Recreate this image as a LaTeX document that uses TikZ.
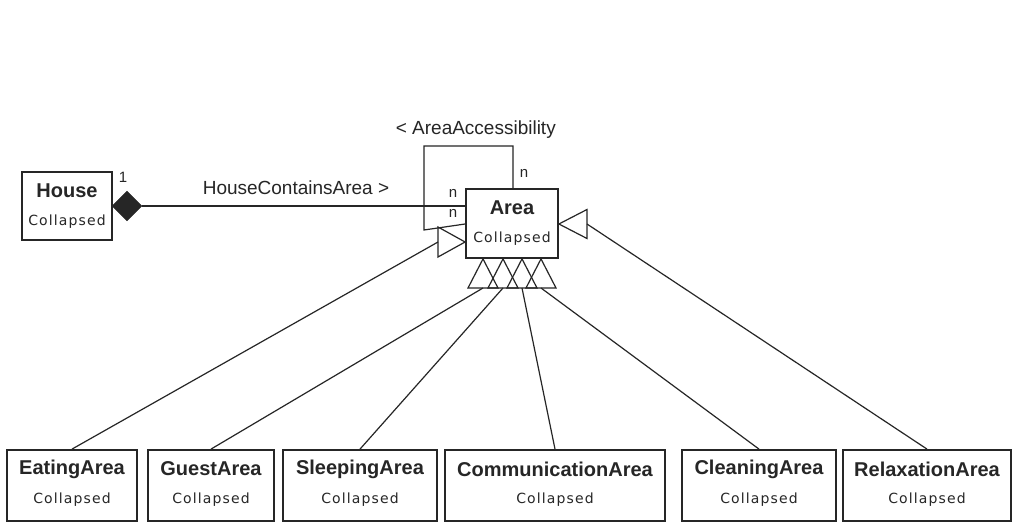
\documentclass[tikz,border=0pt]{standalone}
\usepackage{fontspec}
\setmainfont{Liberation Sans}
\newfontfamily\colfont[LetterSpace=8]{DejaVu Sans}
\usetikzlibrary{shapes.geometric}

% class box: node name, title, x1, x2, y1, y2
\newcommand\umlclass[6]{%
  \node[box, minimum width={#4-#3}, minimum height={#6-#5}] (#1) at ({(#3+#4)/2},{(#5+#6)/2}) {};
  \node[cname] (#1-n) at ({(#3+#4)/2},{#5+19}) {#2};
  \node[ccol] (#1-c) at ({(#3+#4)/2},{#5+50}) {Collapsed};
}

\begin{document}
\begin{tikzpicture}[x=1pt,y=-1pt,
  box/.style={draw=black!85, line width=1.8pt, rectangle, inner sep=0pt},
  cname/.style={font=\fontsize{20}{22}\selectfont\bfseries, text=black!85, inner sep=0pt},
  ccol/.style={font=\colfont\fontsize{14}{16}\selectfont, text=black!85, inner sep=0pt},
  lbl/.style={font=\fontsize{19}{21}\selectfont, text=black!85, inner sep=0pt},
  mult/.style={font=\fontsize{15}{17}\selectfont, text=black!85, inner sep=0pt},
  link/.style={draw=black!85, line width=1.2pt},
  gen/.style={draw=black!85, line width=1.2pt, line join=miter},
]
\useasboundingbox (0,0) rectangle (1016,526);
\fill[white] (0,0) rectangle (1016,526);

% classes
\umlclass{house}{House}{22}{112}{172}{240}
\umlclass{area}{Area}{466}{558}{189}{258}
\umlclass{eat}{EatingArea}{7}{137}{450}{521}
\umlclass{guest}{GuestArea}{148}{274}{450}{521}
\umlclass{sleep}{SleepingArea}{283}{437}{450}{521}
\umlclass{comm}{CommunicationArea}{445}{665}{450}{521}
\umlclass{clean}{CleaningArea}{682}{836}{450}{521}
\umlclass{relax}{RelaxationArea}{843}{1011}{450}{521}

% composition House -> Area
\node[diamond, fill=black!85, draw=black!85, inner sep=0pt, minimum width=30pt, minimum height=30pt] (dia) at (127,206) {};
\draw[link] (dia.east) -- (dia.east -| area.west);
\node[mult] (one) at (123,177) {1};
\node[lbl] (hca) at (296,188) {HouseContainsArea >};
\node[mult] (n1) at (453,193) {n};
\node[mult] (n2) at (453,213) {n};

% self association AreaAccessibility
\coordinate (lpa) at (424,230);
\coordinate (lpb) at (424,146);
\coordinate (lpc) at (513,146);
\draw[link] (area.west |- 0,224) -- (lpa) -- (lpb) -- (lpc) -- (lpc |- area.north);
\node[mult] (n3) at (524,173) {n};
\node[lbl, anchor=east] (acc) at (556,130) {< AreaAccessibility};

% generalization triangles
\coordinate (gl) at (438,242);
\coordinate (gr) at (587,224);
\coordinate (g1) at (483,288);
\coordinate (g2) at (503,288);
\coordinate (g3) at (522,288);
\coordinate (g4) at (541,288);

\draw[link] (eat.north) -- (gl);
\draw[link] (guest.north) -- (g1);
\draw[link] (sleep.north) -- (g2);
\draw[link] (comm.north) -- (g3);
\draw[link] (clean.north) -- (g4);
\draw[link] (relax.north) -- (gr);

\draw[gen] (area.west |- gl) -- ([yshift=15pt]gl) -- ([yshift=-15pt]gl) -- cycle;
\draw[gen] (area.east |- gr) -- ([yshift=14.5pt]gr) -- ([yshift=-14.5pt]gr) -- cycle;
\foreach \g in {g1,g2,g3,g4}
  \draw[gen] (\g |- area.south) -- ([xshift=-15pt]\g) -- ([xshift=15pt]\g) -- cycle;
\end{tikzpicture}
\end{document}
